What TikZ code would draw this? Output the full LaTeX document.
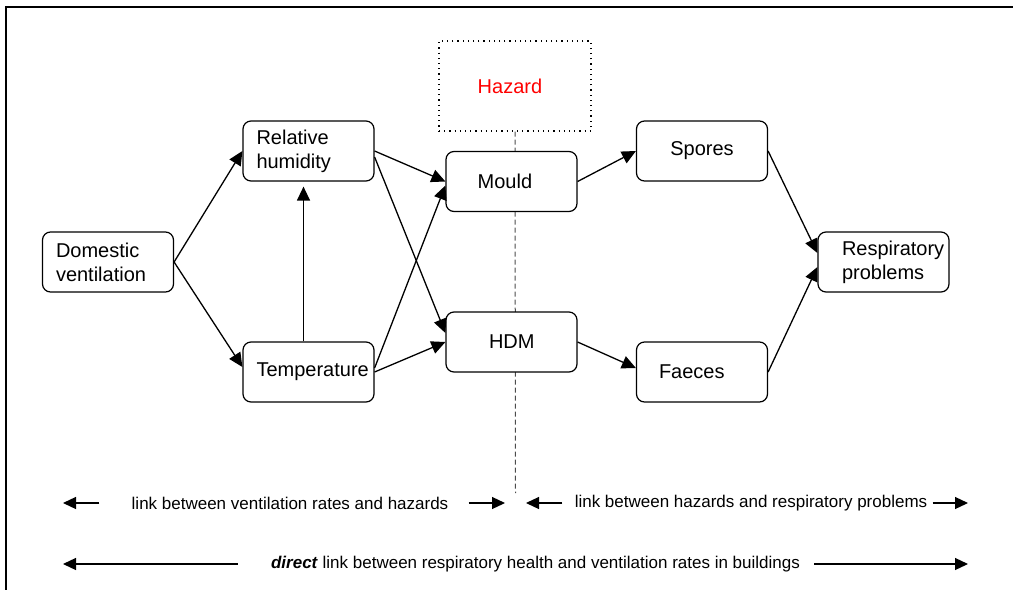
\documentclass[tikz,border=0pt]{standalone}
\usepackage{fontspec}
\setmainfont{Liberation Sans}
\usetikzlibrary{arrows.meta,backgrounds}
\hyphenpenalty=10000
\exhyphenpenalty=10000

\begin{document}
\begin{tikzpicture}[x=0.5pt, y=-0.5pt,
	box/.style={draw, line width=0.6pt, rounded corners=4pt, fill=white,
		minimum width=65.5pt, minimum height=30pt, inner sep=0pt,
		align=left, text width=#1, font=\fontsize{10}{12}\selectfont},
	hazardbox/.style={draw, dotted, line width=0.6pt, minimum width=76pt,
		minimum height=45pt, inner sep=0pt, align=left, text width=37.3pt,
		text=red, font=\fontsize{10}{12}\selectfont},
	arr/.style={line width=0.65pt, -{Triangle[length=7pt,width=6.5pt]}},
	link/.style={line width=0.6pt, -{Triangle[length=6.5pt,width=6pt]}},
	linktext/.style={inner sep=0pt, font=\fontsize{8.5}{10}\selectfont},
	divider/.style={line width=0.5pt, black!70, dash pattern=on 2.5pt off 1.5pt}]
	\useasboundingbox (0,0) rectangle (1013,590);
	% Rahmen
	\draw[line width=1pt] (1013,7) -- (6,7) -- (6,590);
	% Knoten
	\node[hazardbox] (hazard) at (515,86) {Hazard};
	\node[box=52pt] (dv) at (108,262) {Domestic\\ventilation};
	\node[box=52pt] (rh) at (308.5,151) {Relative\\humidity};
	\node[box=52pt] (temp) at (308.5,372) {Temperature};
	\node[box=33.8pt] (mould) at (511.5,181.5) {Mould};
	\node[box=22.5pt] (hdm) at (511.5,342) {HDM};
	\node[box=31.7pt] (spores) at (702,151) {Spores};
	\node[box=43pt] (faeces) at (702,372) {Faeces};
	\node[box=41.5pt] (resp) at (883.5,262) {Respiratory\\problems};
	% Trennlinie
	\coordinate (dashend) at (515.5,493);
	\begin{scope}[on background layer]
		\draw[divider] (hazard.south) -- (dashend);
	\end{scope}
	% Pfeile
	\draw[arr] (dv.east) -- (rh.west);
	\draw[arr] (dv.east) -- ([yshift=2.5pt]temp.west);
	\draw[arr, shorten >=2.5pt] ([xshift=-2.5pt]temp.north) -- ([xshift=-2.5pt]rh.south);
	\draw[arr] (rh.east) -- (mould.west);
	\draw[arr] ([yshift=-3pt]rh.east) -- ([yshift=4.5pt]hdm.west);
	\draw[arr] ([yshift=2pt]temp.east) -- ([yshift=-2pt]mould.west);
	\draw[arr] (temp.east) -- (hdm.west);
	\draw[arr] (mould.east) -- (spores.west);
	\draw[arr] (hdm.east) -- ([yshift=2pt]faeces.west);
	\draw[arr] (spores.east) -- ([yshift=4.5pt]resp.west);
	\draw[arr] (faeces.east) -- ([yshift=-2.5pt]resp.west);
	% Beschriftung unten
	\node[linktext] (vhlink) at (290,503) {link between ventilation rates and hazards};
	\node[linktext] (hrlink) at (751,503) {link between hazards and respiratory problems};
	\node[linktext] (directlink) at (535.5,564) {\textbf{\textit{direct}} link between respiratory health and ventilation rates in buildings};
	\coordinate (vl) at (63,503);
	\coordinate (vr) at (505,503);
	\coordinate (hl) at (526,503);
	\coordinate (hr) at (968,503);
	\coordinate (dl) at (63,564);
	\coordinate (dr) at (968,564);
	\draw[link, shorten <=16pt] (vhlink) -- (vl);
	\draw[link, shorten <=10pt] (vhlink) -- (vr);
	\draw[link, shorten <=6pt] (hrlink) -- (hl);
	\draw[link, shorten <=2.5pt] (hrlink) -- (hr);
	\draw[link, shorten <=16.5pt] (directlink) -- (dl);
	\draw[link, shorten <=7pt] (directlink) -- (dr);
\end{tikzpicture}
\end{document}
